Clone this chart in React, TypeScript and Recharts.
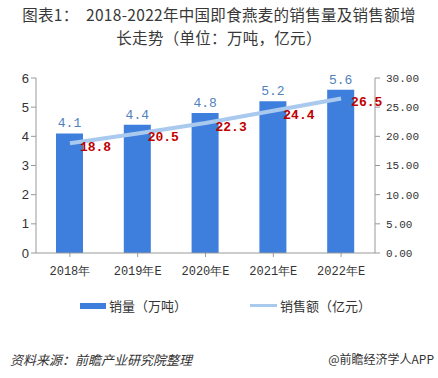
import React from 'react';
import { ComposedChart, Bar, Line, XAxis, YAxis, LabelList } from 'recharts';

const categories = ['2018年', '2019年E', '2020年E', '2021年E', '2022年E'];
const volume = [4.1, 4.4, 4.8, 5.2, 5.6];
const sales = [18.8, 20.5, 22.3, 24.4, 26.5];
const leftTicks = [0, 1, 2, 3, 4, 5, 6];
const rightTicks = [0, 5, 10, 15, 20, 25, 30];

const data = categories.map((c, i) => ({ name: c, volume: volume[i], sales: sales[i] }));

const MONO = '"Liberation Mono", "DejaVu Sans Mono", monospace';
const SANS = '"Noto Sans CJK SC", "DejaVu Sans", sans-serif';
const AXIS = '#999999';

const SalesLabel = (props: any) => {
  const { x, y, value } = props;
  return (
    <text x={x + 10} y={y + 8} fill="#c00000" fontFamily={MONO} fontWeight="bold" fontSize={13}>
      {value}
    </text>
  );
};

export default function App() {
  return (
    <div style={{ position: 'absolute', left: 0, top: 0, width: 438, height: 378, background: '#fff', fontFamily: SANS }}>
      <div style={{ position: 'absolute', left: 0, top: 3, width: 438, textAlign: 'center', fontSize: 15.5, lineHeight: '22.6px', letterSpacing: 0.3, color: '#383838' }}>
        图表1：&nbsp;&nbsp;2018-2022年中国即食燕麦的销售量及销售额增<br />长走势（单位：万吨，亿元）
      </div>
      <ComposedChart width={438} height={378} data={data} margin={{ top: 78, right: 0, bottom: 95, left: 0 }}>
        <XAxis
          dataKey="name"
          stroke={AXIS}
          tickLine={{ stroke: AXIS }}
          tick={{ fill: '#333', fontSize: 12, fontFamily: MONO }}
          interval={0}
          tickSize={4}
          tickMargin={9}
        />
        <YAxis
          yAxisId="left"
          domain={[0, 6]}
          ticks={leftTicks}
          width={36}
          stroke={AXIS}
          tickSize={5}
          tick={{ fill: '#333', fontSize: 13, fontFamily: '"Liberation Sans", Arial, sans-serif' }}
        />
        <YAxis
          yAxisId="right"
          orientation="right"
          domain={[0, 30]}
          ticks={rightTicks}
          width={63}
          stroke={AXIS}
          tickSize={5}
          tickMargin={6}
          tickFormatter={(v: number) => v.toFixed(2)}
          tick={{ fill: '#333', fontSize: 11, fontFamily: MONO }}
        />
        <Bar yAxisId="left" dataKey="volume" fill="#3e7edc" barSize={27} isAnimationActive={false}>
          <LabelList dataKey="volume" position="top" offset={6} fill="#4f81bd" fontSize={13} fontFamily={MONO} />
        </Bar>
        <Line
          yAxisId="right"
          dataKey="sales"
          stroke="#a9c9ef"
          strokeWidth={4}
          dot={false}
          activeDot={false}
          isAnimationActive={false}
        >
          <LabelList dataKey="sales" content={<SalesLabel />} />
        </Line>
      </ComposedChart>
      <div style={{ position: 'absolute', left: 80, top: 296, display: 'flex', alignItems: 'center', fontSize: 13, color: '#333' }}>
        <span style={{ display: 'inline-block', width: 26, height: 6, background: '#3e7edc', marginRight: 3 }} />
        <span>销量（万吨）</span>
      </div>
      <div style={{ position: 'absolute', left: 250, top: 296, display: 'flex', alignItems: 'center', fontSize: 13, color: '#333' }}>
        <span style={{ display: 'inline-block', width: 27, height: 3, background: '#a9c9ef', marginRight: 3 }} />
        <span>销售额（亿元）</span>
      </div>
      <div style={{ position: 'absolute', left: 10, top: 350, fontSize: 13, fontStyle: 'italic', color: '#333' }}>
        资料来源：前瞻产业研究院整理
      </div>
      <div style={{ position: 'absolute', right: 4, top: 350, fontSize: 12, color: '#333' }}>
        @前瞻经济学人APP
      </div>
    </div>
  );
}
